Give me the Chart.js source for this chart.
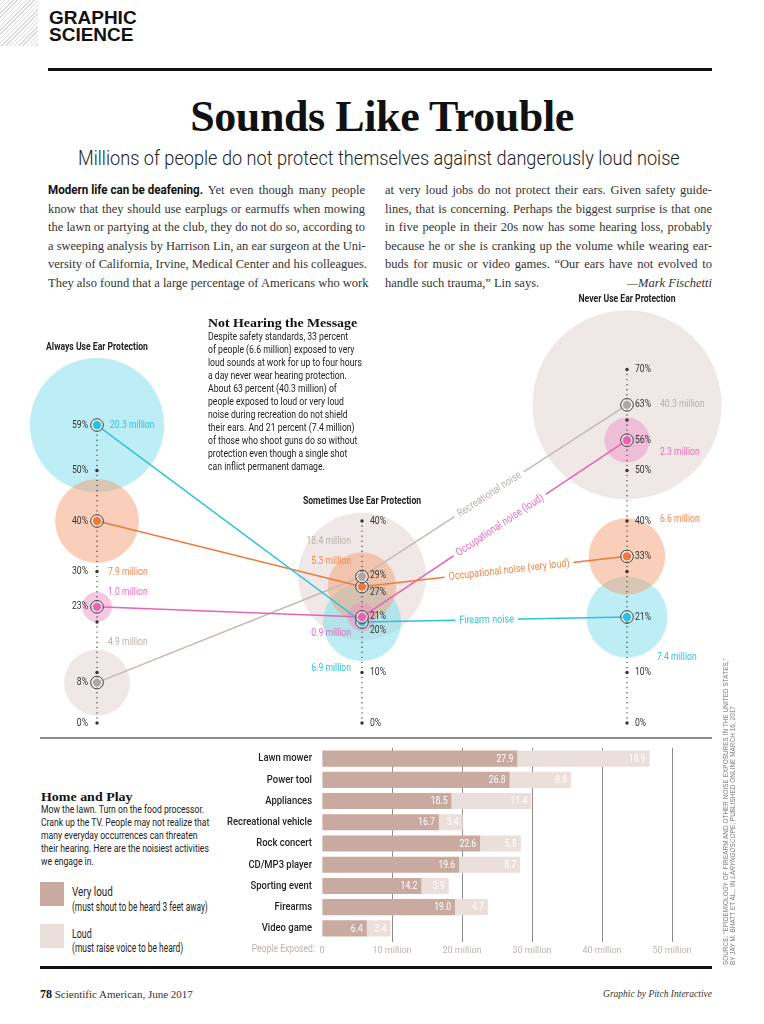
<!DOCTYPE html>
<html>
<head>
<meta charset="utf-8">
<script src="https://cdn.jsdelivr.net/npm/chart.js@4.4.1/dist/chart.umd.min.js"></script>
<style>
  body { margin: 0; width: 764px; height: 1024px; position: relative; overflow: hidden; background: #fff; color: #222;
         font-family: Roboto, "Liberation Sans", sans-serif; }
  .abs { position: absolute; }
  .fit { display: inline-block; white-space: nowrap; transform-origin: left top; }
  .hatch { left: 0; top: 0; width: 38px; height: 46px;
           background: repeating-linear-gradient(135deg, #d9d9d9 0 1px, #fff 1px 3px); }
  .kicker { left: 49px; top: 9px; font: bold 19px/17px "Liberation Sans", Arial, sans-serif; color: #111; }
  .rule { background: #111; }
  .title { left: 0; top: 95px; width: 764px; text-align: center; font: bold 44px/43px "Liberation Serif", serif; color: #111; letter-spacing: -0.4px; }
  .subtitle { left: 78px; top: 149px; font-size: 19.5px; line-height: 19px; font-weight: 300; color: #222; }
  .col { top: 181px; font: 12.5px/18.5px "Liberation Serif", serif; color: #333; }
  .col > div { text-align: justify; text-align-last: justify; white-space: nowrap; }
  .lead { display: inline-block; width: 155px; white-space: nowrap; }
  .lead span { font: bold 12.5px Roboto, "Liberation Sans", sans-serif; color: #111; }
  .note { left: 208px; top: 330px; font-size: 11.5px; line-height: 13px; color: #222; z-index: 2; }
  .hed { font: bold 13.5px/16px "Liberation Serif", serif; color: #111; }
  .play { left: 41px; top: 803px; font-size: 11.5px; line-height: 13px; color: #222; }
  .swatch { width: 24px; height: 24px; }
  .key { left: 72px; font-size: 12px; line-height: 14px; color: #222; }
  canvas { position: absolute; }
  .footer { top: 987px; font: 11px "Liberation Serif", serif; color: #333; }
  .source { left: 722px; top: 965px; transform-origin: left top; transform: rotate(-90deg); white-space: nowrap;
            font: 6.3px/7.4px "Liberation Sans", Arial, sans-serif; color: #777; letter-spacing: 0.1px; }
</style>
</head>
<body>
<div class="abs hatch"></div>
<div class="abs kicker">GRAPHIC<br>SCIENCE</div>
<div class="abs rule" style="left:48px; top:68px; width:664px; height:3px;"></div>
<div class="abs title">Sounds Like Trouble</div>
<div class="abs subtitle"><span class="fit" data-fit="602">Millions of people do not protect themselves against dangerously loud noise</span></div>

<div class="abs col" style="left:48px; width:317px;">
  <div><span class="lead"><span class="fit" data-fit="155">Modern life can be deafening.</span></span> Yet even though many people</div>
  <div>know that they should use earplugs or earmuffs when mowing</div>
  <div>the lawn or partying at the club, they do not do so, according to</div>
  <div>a sweeping analysis by Harrison Lin, an ear surgeon at the Uni-</div>
  <div>versity of California, Irvine, Medical Center and his colleagues.</div>
  <div>They also found that a large percentage of Americans who work</div>
</div>
<div class="abs col" style="left:385px; width:327px;">
  <div>at very loud jobs do not protect their ears. Given safety guide-</div>
  <div>lines, that is concerning. Perhaps the biggest surprise is that one</div>
  <div>in five people in their 20s now has some hearing loss, probably</div>
  <div>because he or she is cranking up the volume while wearing ear-</div>
  <div>buds for music or video games. “Our ears have not evolved to</div>
  <div style="text-align:left; text-align-last:left; position:relative;">handle such trauma,” Lin says.<span style="position:absolute; right:0; font-style:italic;">—Mark Fischetti</span></div>
</div>

<canvas id="noiseChart" width="764" height="450" style="left:0; top:290px;"></canvas>

<div class="abs hed" style="left:208px; top:315px; z-index:2;"><span class="fit" data-fit="149">Not Hearing the Message</span></div>
<div class="abs note"><div class="fit" data-fit="154">
  Despite safety standards, 33 percent<br>
  of people (6.6 million) exposed to very<br>
  loud sounds at work for up to four hours<br>
  a day never wear hearing protection.<br>
  About 63 percent (40.3 million) of<br>
  people exposed to loud or very loud<br>
  noise during recreation do not shield<br>
  their ears. And 21 percent (7.4 million)<br>
  of those who shoot guns do so without<br>
  protection even though a single shot<br>
  can inflict permanent damage.
</div></div>

<div class="abs" style="left:40px; top:737px; width:672px; height:2px; background:#8a8a8a;"></div>

<div class="abs hed" style="left:41px; top:789px;"><span class="fit" data-fit="92">Home and Play</span></div>
<div class="abs play"><div class="fit" data-fit="168">
  Mow the lawn. Turn on the food processor.<br>
  Crank up the TV. People may not realize that<br>
  many everyday occurrences can threaten<br>
  their hearing. Here are the noisiest activities<br>
  we engage in.
</div></div>
<div class="abs swatch" style="left:40px; top:882px; background:#c8aaa1;"></div>
<div class="abs key" style="top:885px;"><span class="fit" data-fit="41">Very loud</span></div>
<div class="abs key" style="top:900px;"><span class="fit" data-fit="136">(must shout to be heard 3 feet away)</span></div>
<div class="abs swatch" style="left:40px; top:924px; background:#ebdfdb;"></div>
<div class="abs key" style="top:927px;"><span class="fit" data-fit="20">Loud</span></div>
<div class="abs key" style="top:941px;"><span class="fit" data-fit="111">(must raise voice to be heard)</span></div>

<canvas id="barChart" width="520" height="220" style="left:200px; top:742px;"></canvas>

<div class="abs rule" style="left:40px; top:966px; width:672px; height:3px;"></div>
<div class="abs footer" style="left:40px;"><b style="font-size:12px; color:#111;">78</b> Scientific American, June 2017</div>
<div class="abs footer" style="left:500px; width:212px; text-align:right; font-style:italic; font-size:9.5px; top:989px;">Graphic by Pitch Interactive</div>
<div class="abs source">SOURCE: “EPIDEMIOLOGY OF FIREARM AND OTHER NOISE EXPOSURES IN THE UNITED STATES,”<br>BY JAY M. BHATT ET AL., IN <i>LARYNGOSCOPE</i>; PUBLISHED ONLINE MARCH 16, 2017</div>

<script>
// squeeze the condensed-type blocks to their measured widths
document.querySelectorAll('[data-fit]').forEach(el => {
  el.style.transform = 'scaleX(' + (+el.dataset.fit / el.scrollWidth) + ')';
});

// ---- data: ear protection ----
const columns = ['Always Use Ear Protection', 'Sometimes Use Ear Protection', 'Never Use Ear Protection'];
const seriesNames = ['Firearm noise', 'Occupational noise (very loud)', 'Occupational noise (loud)', 'Recreational noise'];
const firearmPct = [59, 20, 21];
const firearmMillions = [20.3, 6.9, 7.4];
const veryLoudPct = [40, 27, 33];
const veryLoudMillions = [7.9, 5.3, 6.6];
const loudPct = [23, 21, 56];
const loudMillions = [1.0, 0.9, 2.3];
const recreationPct = [8, 29, 63];
const recreationMillions = [4.9, 18.4, 40.3];
const axisTicks = [[0, 30, 50], [0, 10, 40], [0, 10, 40, 50, 70]];

// ---- data: home and play ----
const activities = ['Lawn mower', 'Power tool', 'Appliances', 'Recreational vehicle', 'Rock concert',
                    'CD/MP3 player', 'Sporting event', 'Firearms', 'Video game'];
const veryLoudExposed = [27.9, 26.8, 18.5, 16.7, 22.6, 19.6, 14.2, 19.0, 6.4];
const loudExposed = [18.9, 8.8, 11.4, 3.4, 5.8, 8.7, 3.9, 4.7, 3.4];
const exposureTicks = [0, 10, 20, 30, 40, 50];

// ---- styles ----
const SANS = 'Roboto, "Liberation Sans", sans-serif';
const SX = 0.82; // horizontal squeeze to mimic the condensed face
const pctSeries = [firearmPct, veryLoudPct, loudPct, recreationPct];
const millionSeries = [firearmMillions, veryLoudMillions, loudMillions, recreationMillions];
const lineColors = ['#2bc3dc', '#f07a3c', '#ea62b4', '#c8b8b0'];
const dotColors = ['#2bc3dc', '#f07a3c', '#ea62b4', '#b3a7a1'];
const textColors = ['#2ec2dc', '#f2874a', '#e96cba', '#bcb0aa'];
const bubbleColors = ['rgba(123,221,237,0.5)', 'rgba(243,159,117,0.5)', 'rgba(237,145,199,0.5)', 'rgba(219,205,199,0.45)'];
const bubbleOrder = [13, 12, 11, 14];
const labelAlong = [0.47, 0.555, 0.52, 0.48];
// nudges (px) for percent labels that would collide, per column
const pctNudge = [{}, { 29: -1, 27: 6, 21: -1, 20: 8 }, {}];
// million label offsets from the point: [dx, dy, align]
const millionOffsets = [
  [[13, 0, 'left'], [-11, 46, 'right'], [30, 40, 'left']],
  [[11, 51, 'left'], [-11, -25, 'right'], [33, -37, 'left']],
  [[11, -14, 'left'], [-11, 16, 'right'], [33, 12, 'left']],
  [[11, -40, 'left'], [-11, -35, 'right'], [33, 0, 'left']]
];
const radius = m => 14.9 * Math.sqrt(m);

function narrowText(ctx, text, x, y, align) {
  ctx.save();
  ctx.translate(x, y);
  ctx.scale(SX, 1);
  ctx.textAlign = align;
  ctx.fillText(text, 0, 0);
  ctx.restore();
}

const datasets = [];
pctSeries.forEach((pct, i) => {
  datasets.push({
    type: 'line', label: seriesNames[i], order: i + 1,
    data: pct.map((v, c) => ({ x: c, y: v })),
    borderColor: lineColors[i], borderWidth: 1.5, pointRadius: 0, clip: false
  });
  datasets.push({
    type: 'bubble', label: seriesNames[i] + ' people', order: bubbleOrder[i],
    data: pct.map((v, c) => ({ x: c, y: v, r: radius(millionSeries[i][c]) })),
    backgroundColor: bubbleColors[i], borderWidth: 0, clip: false
  });
});

const noisePlugin = {
  id: 'noiseAxes',
  afterDatasetsDraw(chart) {
    const { ctx, scales: { x, y } } = chart;
    const metas = chart.getSortedVisibleDatasetMetas();
    const lineMetas = metas.filter(m => m.type === 'line').sort((a, b) => a.index - b.index);
    const bubbleMetas = metas.filter(m => m.type === 'bubble');
    ctx.save();
    ctx.textBaseline = 'middle';

    columns.forEach((name, col) => {
      const px = x.getPixelForValue(col);
      const values = pctSeries.map(s => s[col]);
      const top = Math.max(...axisTicks[col], ...values);
      // dotted axis
      ctx.fillStyle = '#333';
      for (let v = 0; v <= top; v++) {
        ctx.beginPath();
        ctx.arc(px, y.getPixelForValue(v), v % 10 === 0 ? 1.7 : 0.7, 0, Math.PI * 2);
        ctx.fill();
      }
      // header above highest bubble
      const bubbleTop = Math.min(...bubbleMetas.map(m => m.data[col].y - m.data[col].options.radius));
      ctx.font = 'bold 10.5px ' + SANS;
      ctx.fillStyle = '#222';
      narrowText(ctx, name, px, bubbleTop - 11, 'center');
    });

    // markers
    lineMetas.forEach((meta, i) => {
      meta.data.forEach(pt => {
        ctx.beginPath();
        ctx.arc(pt.x, pt.y, 6.3, 0, Math.PI * 2);
        ctx.fillStyle = 'rgba(255,255,255,0.6)';
        ctx.fill();
        ctx.lineWidth = 1;
        ctx.strokeStyle = '#3a3a3a';
        ctx.stroke();
        ctx.beginPath();
        ctx.arc(pt.x, pt.y, 4.2, 0, Math.PI * 2);
        ctx.fillStyle = dotColors[i];
        ctx.fill();
      });
    });

    // percent labels
    ctx.font = '10.5px ' + SANS;
    ctx.fillStyle = '#333';
    columns.forEach((name, col) => {
      const px = x.getPixelForValue(col);
      const labels = new Set([...axisTicks[col], ...pctSeries.map(s => s[col])]);
      labels.forEach(v => {
        const dy = pctNudge[col][v] || 0;
        narrowText(ctx, v + '%', col === 0 ? px - 9 : px + 8, y.getPixelForValue(v) + dy, col === 0 ? 'right' : 'left');
      });
    });

    // million labels
    lineMetas.forEach((meta, i) => {
      ctx.fillStyle = textColors[i];
      meta.data.forEach((pt, col) => {
        const [dx, dy, align] = millionOffsets[i][col];
        narrowText(ctx, millionSeries[i][col].toFixed(1) + ' million', pt.x + dx, pt.y + dy, align);
      });
    });

    // series labels along the right-hand segment
    ctx.font = '11px ' + SANS;
    lineMetas.forEach((meta, i) => {
      const a = meta.data[1], b = meta.data[2];
      const t = labelAlong[i];
      const cx = a.x + (b.x - a.x) * t, cy = a.y + (b.y - a.y) * t;
      const w = ctx.measureText(seriesNames[i]).width * SX;
      ctx.save();
      ctx.translate(cx, cy);
      ctx.rotate(Math.atan2(b.y - a.y, b.x - a.x));
      ctx.fillStyle = '#fff';
      ctx.fillRect(-w / 2 - 4, -6, w + 8, 12);
      ctx.fillStyle = textColors[i];
      narrowText(ctx, seriesNames[i], 0, 0.5, 'center');
      ctx.restore();
    });
    ctx.restore();
  }
};

new Chart(document.getElementById('noiseChart'), {
  type: 'bubble',
  data: { datasets },
  options: {
    responsive: false, animation: false, events: [],
    layout: { autoPadding: false, padding: { left: 97, right: 137, top: 29, bottom: 17 } },
    plugins: { legend: { display: false }, tooltip: { enabled: false } },
    scales: {
      x: { type: 'linear', min: 0, max: 2, display: false },
      y: { type: 'linear', min: 0, max: 80, display: false }
    }
  },
  plugins: [noisePlugin]
});

// ---- home and play bars ----
const barLabels = {
  id: 'barLabels',
  afterDatasetsDraw(chart) {
    const { ctx } = chart;
    ctx.save();
    ctx.font = '10.5px ' + SANS;
    ctx.fillStyle = '#fff';
    ctx.textBaseline = 'middle';
    chart.data.datasets.forEach((ds, i) => {
      chart.getDatasetMeta(i).data.forEach((bar, j) => {
        narrowText(ctx, ds.data[j].toFixed(1), bar.x - 4, bar.y + 0.5, 'right');
      });
    });
    ctx.restore();
  },
  afterDraw(chart) {
    const { ctx, chartArea, scales: { x, y } } = chart;
    ctx.save();
    ctx.textBaseline = 'middle';
    ctx.font = '500 11.5px ' + SANS;
    ctx.fillStyle = '#222';
    chart.data.labels.forEach((label, i) => {
      narrowText(ctx, label, chartArea.left - 10, y.getPixelForTick(i), 'right');
    });
    ctx.font = '10.5px ' + SANS;
    ctx.fillStyle = '#bdb2ae';
    narrowText(ctx, 'People Exposed:', x.getPixelForValue(0) - 7, chartArea.bottom + 10.5, 'right');
    ctx.restore();
  }
};

new Chart(document.getElementById('barChart'), {
  type: 'bar',
  data: {
    labels: activities,
    datasets: [
      { label: 'Very loud', data: veryLoudExposed, backgroundColor: '#c8aaa1', barPercentage: 0.76, categoryPercentage: 1 },
      { label: 'Loud', data: loudExposed, backgroundColor: '#ebdfdb', barPercentage: 0.76, categoryPercentage: 1 }
    ]
  },
  options: {
    indexAxis: 'y', responsive: false, animation: false, events: [],
    layout: { padding: { top: 6, right: 48, left: 0, bottom: 0 } },
    plugins: { legend: { display: false }, tooltip: { enabled: false } },
    scales: {
      x: {
        stacked: true, min: 0, max: 50, z: 1,
        afterBuildTicks: s => { s.ticks = exposureTicks.map(v => ({ value: v })); },
        afterFit: s => { s.height = 23; },
        ticks: { callback: v => v === 0 ? '0' : v + ' million', color: '#bdb2ae', font: { family: SANS, size: 9 }, padding: 3, maxRotation: 0 },
        grid: { color: c => c.tick && c.tick.value === 0 ? 'rgba(0,0,0,0)' : '#6f6f6f', lineWidth: 0.8, tickLength: 3 },
        border: { display: false }
      },
      y: {
        stacked: true,
        afterFit: s => { s.width = 122; },
        ticks: { display: false },
        grid: { display: false },
        border: { display: false }
      }
    }
  },
  plugins: [barLabels]
});
</script>
</body>
</html>
